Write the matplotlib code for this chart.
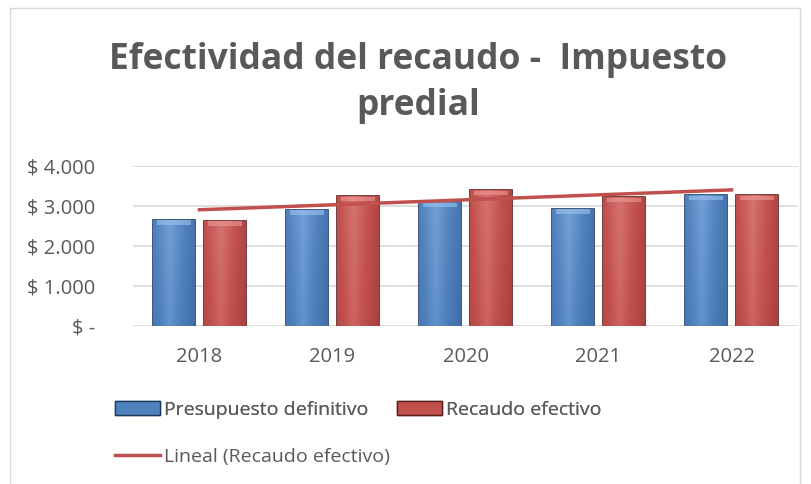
import numpy as np
import matplotlib.pyplot as plt
from matplotlib.patches import Rectangle
from matplotlib.lines import Line2D

years = ["2018", "2019", "2020", "2021", "2022"]
presupuesto = [2662, 2912, 3103, 2937, 3271]
recaudo = [2637, 3246, 3396, 3221, 3271]
yticks = [0, 1000, 2000, 3000, 4000]
ytick_labels = ["$ -", "$ 1.000", "$ 2.000", "$ 3.000", "$ 4.000"]

txt = "#595959"
blue = "#4f81bd"
red = "#c0504d"

plt.rcParams['font.family'] = ['Open Sans', 'DejaVu Sans']

fig = plt.figure(figsize=(8.12, 4.84), dpi=100)
ax = fig.add_axes([133 / 812, 1 - 326 / 484, 665 / 812, 160 / 484])

x = np.arange(len(years))
w = 0.315
off = 0.19


def shade(bars, base, dark, light):
    # fake the bevel look: gradient + light top band
    cmap = plt.matplotlib.colors.LinearSegmentedColormap.from_list("c", [dark, base, light])
    for b in bars:
        x0, y0 = b.get_x(), b.get_y()
        bw, bh = b.get_width(), b.get_height()
        gx = np.linspace(0, 1, 64)
        gy = np.linspace(0, 1, 64)[:, None]
        prof = 0.75 - np.abs(gx - 0.4) * 0.9 + 0.15 * gy
        im = ax.imshow(prof, extent=[x0, x0 + bw, y0, y0 + bh], aspect="auto", origin="lower",
                       cmap=cmap, vmin=-0.2, vmax=1.3, zorder=2)
        im.set_clip_path(b)
        ax.add_patch(Rectangle((x0 + bw * 0.1, y0 + bh - 130), bw * 0.8, 110,
                               facecolor=light, edgecolor="none", alpha=0.6, zorder=3))


b1 = ax.bar(x - off, presupuesto, w, color=blue, edgecolor="#1f3a60", linewidth=1.2, zorder=2)
b2 = ax.bar(x + off, recaudo, w, color=red, edgecolor="#5a1e1c", linewidth=1.2, zorder=2)
shade(b1, blue, "#2f5589", "#9cc3f0")
shade(b2, red, "#8e2f2c", "#f09a98")

# linear trendline of recaudo
k, c = np.polyfit(x, recaudo, 1)
ax.plot(x, k * x + c, color="#c0504d", linewidth=2.5, zorder=4)

ax.set_xlim(-0.5, len(years) - 0.5)
ax.set_ylim(0, 4000)
ax.set_yticks(yticks)
ax.set_yticklabels(ytick_labels)
ax.set_xticks(x)
ax.set_xticklabels(years)
ax.tick_params(axis="both", length=0, labelsize=14.5, colors=txt)
ax.tick_params(axis="y", pad=27)
ax.tick_params(axis="x", pad=15)
for lab in ax.get_yticklabels():
    lab.set_horizontalalignment("right")
ax.yaxis.grid(True, color="#d9d9d9", linewidth=1.2, zorder=0)
ax.set_axisbelow(True)
for s in ax.spines.values():
    s.set_visible(False)

fig.text(0.515, 1 - 60 / 484, "Efectividad del recaudo -  Impuesto", ha="center", va="center",
         fontsize=25.5, fontweight="bold", color=txt)
fig.text(0.515, 1 - 106 / 484, "predial", ha="center", va="center",
         fontsize=25.5, fontweight="bold", color=txt)

h_blue = Rectangle((0, 0), 1, 1, facecolor=blue, edgecolor="#1f3a60")
h_red = Rectangle((0, 0), 1, 1, facecolor=red, edgecolor="#5a1e1c")
h_line = Line2D([0], [0], color="#c0504d", linewidth=2.5)
leg_kw = dict(frameon=False, fontsize=14, labelcolor=txt, handlelength=2.3, handleheight=0.7,
              handletextpad=0.2, borderpad=0, borderaxespad=0)
leg1 = fig.legend([h_blue, h_red], ["Presupuesto definitivo", "Recaudo efectivo"],
                  ncol=2, loc="center left", bbox_to_anchor=(115 / 812, 1 - 410 / 484),
                  columnspacing=1.5, **leg_kw)
fig.legend([h_line], ["Lineal (Recaudo efectivo)"], loc="center left",
           bbox_to_anchor=(115 / 812, 1 - 457 / 484), **leg_kw)
fig.add_artist(leg1)

fig.add_artist(Rectangle((10 / 812, -0.01), 790 / 812, 1 - 8 / 484 + 0.01, transform=fig.transFigure,
                         facecolor="none", edgecolor="#d9d9d9", linewidth=1))

fig.savefig("out.png", dpi=100)
